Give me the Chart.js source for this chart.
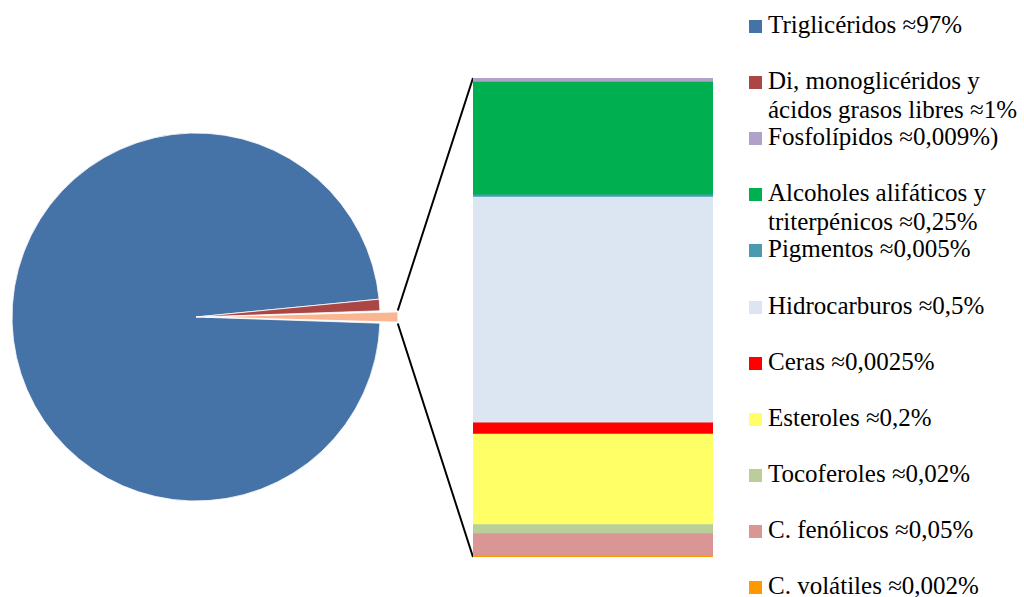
<!DOCTYPE html>
<html><head><meta charset="utf-8">
<script src="https://cdn.jsdelivr.net/npm/chart.js@4"></script>
<style>
html,body{margin:0;padding:0;background:#fff;}
body{width:1024px;height:597px;position:relative;overflow:hidden;}
#pie{position:absolute;left:0;top:0;}
#bar{position:absolute;left:473px;top:78px;}
.leg{position:absolute;left:749px;font-family:"Liberation Serif","Times New Roman",serif;font-size:25px;line-height:29px;color:#000;white-space:pre;}
.leg .txt{position:absolute;left:19px;top:0;}
.leg .box{position:absolute;left:0;top:10px;width:13px;height:13px;}
</style></head><body>
<canvas id="pie" width="480" height="597"></canvas>
<canvas id="bar" width="240" height="479"></canvas>
<div id="legend"></div>
<script>
// ---- data ----
const pieLabels = ['Triglicéridos ≈97%', 'Di, monoglicéridos y\nácidos grasos libres ≈1%', 'Otros componentes'];
const pieValues = [97, 1, 1.061];
const pieColors = ['#4673A7', '#AA4744', '#F9B690'];

// bar components, top to bottom
const barLabels = ['Fosfolípidos ≈0,009%)', 'Alcoholes alifáticos y\ntriterpénicos ≈0,25%', 'Pigmentos ≈0,005%',
  'Hidrocarburos ≈0,5%', 'Ceras ≈0,0025%', 'Esteroles ≈0,2%', 'Tocoferoles ≈0,02%',
  'C. fenólicos ≈0,05%', 'C. volátiles ≈0,002%'];
const barValues = [0.009, 0.25, 0.005, 0.5, 0.025, 0.2, 0.02, 0.05, 0.002];
const barColors = ['#B1A0C7', '#00B050', '#4A9BB0', '#DCE6F2', '#FF0000', '#FFFF66', '#BACE99', '#D99694', '#FF9900'];

// ---- legend (HTML) ----
const legendLabels = [pieLabels[0], pieLabels[1]].concat(barLabels);
const legendColors = [pieColors[0], pieColors[1]].concat(barColors);
const legend = document.getElementById('legend');
legendLabels.forEach((t, i) => {
  const baseline = 33 + 56.1 * i;
  const d = document.createElement('div');
  d.className = 'leg';
  d.style.top = (baseline - 23) + 'px';
  const b = document.createElement('div');
  b.className = 'box'; b.style.background = legendColors[i];
  const s = document.createElement('div');
  s.className = 'txt'; s.textContent = t;
  d.appendChild(b); d.appendChild(s);
  legend.appendChild(d);
});

// ---- stacked bar (bottom to top order for stacking) ----
const order = barValues.map((_, i) => i).reverse();
const barMax = barValues.reduce((a, b) => a + b, 0);
const barChart = new Chart(document.getElementById('bar'), {
  type: 'bar',
  data: {
    labels: ['Otros'],
    datasets: order.map(i => ({
      label: barLabels[i],
      data: [barValues[i]],
      backgroundColor: barColors[i],
      borderWidth: 0,
      barPercentage: 1,
      categoryPercentage: 1
    }))
  },
  options: {
    responsive: false, animation: false, devicePixelRatio: 1,
    layout: { padding: 0 },
    plugins: { legend: { display: false }, tooltip: { enabled: false } },
    scales: {
      x: { stacked: true, display: false },
      y: { stacked: true, display: false, min: 0, max: barMax }
    }
  }
});

// ---- pie ----
const pieTotal = pieValues.reduce((a, b) => a + b, 0);
const cumMid = pieValues[0] + pieValues[1] + pieValues[2] / 2;
const rotation = 90 - 360 * cumMid / pieTotal + 360;

const connectors = {
  id: 'connectors',
  afterDatasetsDraw(chart) {
    const ctx = chart.ctx;
    const arc = chart.getDatasetMeta(0).data[2];
    const off = (arc.options.offset || 0) / 4;
    const mid = (arc.startAngle + arc.endAngle) / 2;
    const circ = arc.endAngle - arc.startAngle;
    const fix = 1 - Math.sin(Math.min(Math.PI, circ));
    const tx = arc.x + Math.cos(mid) * off, ty = arc.y + Math.sin(mid) * off;
    const r = arc.outerRadius + off * fix;
    const p1 = [tx + Math.cos(arc.startAngle) * r, ty + Math.sin(arc.startAngle) * r];
    const p2 = [tx + Math.cos(arc.endAngle) * r, ty + Math.sin(arc.endAngle) * r];
    const bc = barChart.canvas, ys = barChart.scales.y;
    const bx = bc.offsetLeft + barChart.chartArea.left;
    const topY = bc.offsetTop + ys.getPixelForValue(ys.max);
    const botY = bc.offsetTop + ys.getPixelForValue(0);
    ctx.save();
    ctx.strokeStyle = '#000'; ctx.lineWidth = 2;
    ctx.beginPath();
    ctx.moveTo(p1[0], p1[1]); ctx.lineTo(bx, topY);
    ctx.moveTo(p2[0], p2[1]); ctx.lineTo(bx, botY);
    ctx.stroke();
    ctx.restore();
  }
};

new Chart(document.getElementById('pie'), {
  type: 'pie',
  data: {
    labels: pieLabels,
    datasets: [{
      data: pieValues,
      backgroundColor: pieColors,
      borderColor: '#ffffff',
      borderWidth: 0.8,
      offset: [0, 0, 37],
      hoverOffset: 0
    }]
  },
  options: {
    responsive: false, animation: false, devicePixelRatio: 1,
    radius: 184,
    rotation: rotation,
    layout: { padding: { left: 0, right: 88, top: 37, bottom: 0 } },
    plugins: { legend: { display: false }, tooltip: { enabled: false } }
  },
  plugins: [connectors]
});
</script>
</body></html>
